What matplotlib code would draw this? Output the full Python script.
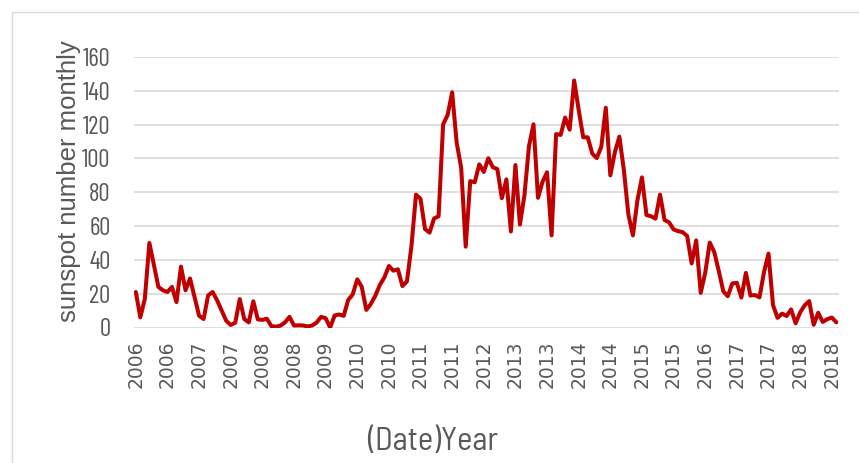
import numpy as np
import matplotlib
matplotlib.use("Agg")
import matplotlib.pyplot as plt
from matplotlib.patches import Rectangle

# monthly sunspot number, Jan 2006 .. Dec 2018
y2006 = [21, 6, 17, 50, 37, 24, 22, 21, 24, 15, 36, 22]
y2007 = [29, 18, 7, 5, 19, 21, 16, 10, 4, 1.5, 2.8, 16.8]
y2008 = [5, 3, 15.5, 4.8, 4.5, 5.2, 0.8, 0.5, 1.1, 3, 6.3, 1.2]
y2009 = [1.3, 1.2, 0.6, 1.2, 2.9, 6.3, 5.5, 0.0, 7.1, 7.7, 6.9, 16.3]
y2010 = [19.6, 28.5, 24.0, 10.4, 13.9, 18.8, 25.2, 29.6, 36.4, 33.6, 34.4, 24.5]
y2011 = [27.3, 48.3, 78.6, 76.1, 58.2, 56.1, 64.5, 65.8, 120.1, 125.7, 139.1, 109.3]
y2012 = [94.4, 47.8, 86.6, 85.9, 96.5, 92.0, 100.1, 94.8, 93.7, 76.5, 87.6, 56.8]
y2013 = [96.1, 60.9, 78.3, 107.3, 120.2, 76.7, 86.2, 91.8, 54.5, 114.4, 113.9, 124.2]
y2014 = [117.0, 146.1, 128.7, 112.5, 112.5, 102.9, 100.2, 106.9, 130.0, 90.0, 103.6, 112.9]
y2015 = [93.0, 66.7, 54.5, 75.3, 88.8, 66.5, 65.8, 64.4, 78.6, 63.6, 62.2, 58.0]
y2016 = [57.0, 56.4, 54.1, 37.9, 51.5, 20.5, 32.4, 50.2, 44.6, 33.4, 21.4, 18.5]
y2017 = [26.1, 26.4, 17.7, 32.3, 18.9, 19.2, 17.8, 32.6, 43.7, 13.2, 5.7, 8.2]
y2018 = [6.8, 10.7, 2.5, 8.9, 13.1, 15.6, 1.6, 8.7, 3.3, 4.9, 5.9, 3.1]

sunspots = np.array(y2006 + y2007 + y2008 + y2009 + y2010 + y2011 + y2012
                    + y2013 + y2014 + y2015 + y2016 + y2017 + y2018)

# Excel shows a label every 7th month
tick_labels = ['2006', '2006', '2007', '2007', '2008', '2008', '2009', '2010',
               '2010', '2011', '2011', '2012', '2013', '2013', '2014', '2014',
               '2015', '2015', '2016', '2017', '2017', '2018', '2018']

# the source picture is squeezed sideways: narrow font for horizontal text,
# wider ones for the rotated text
narrow = ['Barlow Condensed', 'Liberation Sans Narrow', 'Liberation Sans']
semi = ['Barlow Semi Condensed', 'Barlow Condensed', 'Liberation Sans']
grey = '#595959'

fig = plt.figure(figsize=(8.59, 4.63), dpi=100)
ax = fig.add_axes([134/859, 1 - 327.5/463, (839-134)/859, (327.5-57)/463])

x = np.arange(len(sunspots))
ax.plot(x, sunspots, color='#C00000', linewidth=2.9, solid_joinstyle='round',
        solid_capstyle='round', zorder=3)

ax.set_xlim(-0.4, 155.6)
ax.set_ylim(0, 160)
ax.set_yticks(np.arange(0, 161, 20))
ax.set_xticks(x[::7])
ax.set_xticklabels(tick_labels, rotation=90, family='DejaVu Sans', fontsize=13.5,
                   color=grey)
for lab in ax.get_yticklabels():
    lab.set_family(narrow)
    lab.set_fontsize(18)
    lab.set_color(grey)

ax.grid(axis='y', color='#D9D9D9', linewidth=1.2)
ax.set_axisbelow(True)
for s in ax.spines.values():
    s.set_visible(False)
ax.tick_params(length=0)
ax.tick_params(axis='y', pad=17)
ax.tick_params(axis='x', pad=9)

fig.text(69/859, 1 - 181/463, 'sunspot number monthly', rotation=90,
         ha='center', va='center', family='Liberation Sans', fontsize=18.5,
         color=grey)
fig.text(433/859, 1 - 442/463, '(Date)Year', ha='center', va='center',
         family=semi, fontsize=23.5, color=grey)

# chart border (only left and top edges visible in the crop)
fig.patches.append(Rectangle((12/859, -0.1), 1.2, 1 - 12/463 + 0.1,
                             transform=fig.transFigure, fill=False,
                             edgecolor='#D9D9D9', linewidth=1))

fig.savefig('out.png', dpi=100)
